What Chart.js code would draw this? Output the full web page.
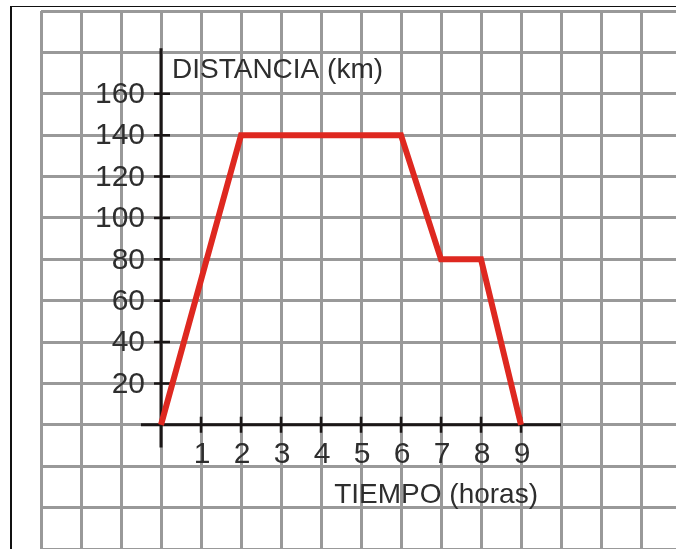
<!DOCTYPE html>
<html lang="es">
<head>
<meta charset="UTF-8">
<title>Distancia vs tiempo</title>
<script src="https://cdn.jsdelivr.net/npm/chart.js"></script>
<style>
    body { margin: 0; background: #fff; }
    .sheet { position: relative; width: 676px; height: 549px; overflow: hidden; background: #fff; }
    .frame {
        position: absolute; left: 10px; top: 6px; right: 0; bottom: 0;
        border-left: 2px solid #111; border-top: 1.5px solid #111;
        pointer-events: none;
    }
    canvas { display: block; }
</style>
</head>
<body>
<div class="sheet">
    <canvas id="chart" width="676" height="549"></canvas>
    <div class="frame"></div>
</div>

<script>
    // datos
    const tiempo = [0, 2, 6, 7, 8, 9];          // horas
    const distancia = [0, 140, 140, 80, 80, 0];  // km
    const xTickLabels = [1, 2, 3, 4, 5, 6, 7, 8, 9];
    const yTickLabels = [20, 40, 60, 80, 100, 120, 140, 160];
    const xTitle = 'TIEMPO (horas)';
    const yTitle = 'DISTANCIA (km)';

    const GRID = '#999999';
    const INK = '#1b1717';
    const TEXT = '#2e2e2e';

    // ejes, marcas y rotulos dibujados sobre la cuadricula
    const axesPlugin = {
        id: 'axesPlugin',
        beforeDatasetsDraw(chart) {
            const ctx = chart.ctx;
            const xs = chart.scales.x;
            const ys = chart.scales.y;
            const x0 = xs.getPixelForValue(0);
            const y0 = ys.getPixelForValue(0);

            ctx.save();
            ctx.strokeStyle = INK;
            ctx.lineWidth = 3;
            ctx.beginPath();
            // eje x
            ctx.moveTo(xs.getPixelForValue(-0.5), y0);
            ctx.lineTo(xs.getPixelForValue(10), y0);
            // eje y
            ctx.moveTo(x0, ys.getPixelForValue(-11));
            ctx.lineTo(x0, ys.getPixelForValue(182));
            ctx.stroke();

            ctx.lineWidth = 2.5;
            ctx.beginPath();
            xTickLabels.forEach(v => {
                const px = xs.getPixelForValue(v);
                ctx.moveTo(px, y0 - 8);
                ctx.lineTo(px, y0 + 8);
            });
            yTickLabels.forEach(v => {
                const py = ys.getPixelForValue(v);
                ctx.moveTo(x0 - 7, py);
                ctx.lineTo(x0 + 9, py);
            });
            ctx.stroke();

            ctx.fillStyle = TEXT;
            ctx.font = '30px "Liberation Sans", Arial, sans-serif';
            ctx.textBaseline = 'middle';
            ctx.textAlign = 'center';
            xTickLabels.forEach(v => {
                ctx.fillText(String(v), xs.getPixelForValue(v) + 1, y0 + 30);
            });
            ctx.textAlign = 'right';
            yTickLabels.forEach(v => {
                ctx.fillText(String(v), x0 - 16, ys.getPixelForValue(v) + 1);
            });

            ctx.font = '28px "Liberation Sans", Arial, sans-serif';
            ctx.textAlign = 'left';
            ctx.fillText(yTitle, x0 + 11, ys.getPixelForValue(160) - 23);
            ctx.textAlign = 'right';
            ctx.fillText(xTitle, xs.getPixelForValue(9) + 17, y0 + 70);
            ctx.restore();
        }
    };

    const ctx = document.getElementById('chart').getContext('2d');
    new Chart(ctx, {
        type: 'line',
        data: {
            datasets: [{
                label: 'Distancia',
                data: tiempo.map((t, i) => ({ x: t, y: distancia[i] })),
                borderColor: '#de2820',
                borderWidth: 6,
                borderJoinStyle: 'miter',
                borderCapStyle: 'butt',
                pointRadius: 0,
                tension: 0,
                fill: false
            }]
        },
        options: {
            responsive: false,
            animation: false,
            layout: { padding: { left: 41, top: 11, right: 0, bottom: 0 } },
            plugins: { legend: { display: false }, tooltip: { enabled: false } },
            scales: {
                x: {
                    type: 'linear',
                    min: -3,
                    max: 12.875,
                    ticks: { display: false, stepSize: 1, includeBounds: false },
                    grid: { color: GRID, lineWidth: 3, drawTicks: false },
                    border: { display: false }
                },
                y: {
                    type: 'linear',
                    min: -60,
                    max: 200,
                    ticks: { display: false, stepSize: 20, includeBounds: false },
                    grid: { color: GRID, lineWidth: 3, drawTicks: false },
                    border: { display: false }
                }
            }
        },
        plugins: [axesPlugin]
    });
</script>
</body>
</html>
